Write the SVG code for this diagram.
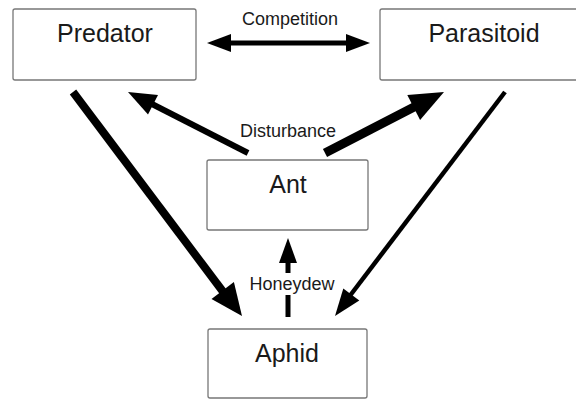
<svg xmlns="http://www.w3.org/2000/svg" width="576" height="401" viewBox="0 0 576 401">
<style>
.box{fill:#fff;stroke:#777;stroke-width:1.3}
.node{font-family:"Liberation Sans",Arial,sans-serif;font-size:25px;fill:#1a1a1a;text-anchor:middle}
.lbl{font-family:"Liberation Sans",Arial,sans-serif;font-size:18px;fill:#1a1a1a;text-anchor:middle}
.ln{stroke:#000;fill:none;stroke-linecap:butt}
.hd{fill:#000;stroke:none}
</style>
<rect width="576" height="401" fill="#fff"/>
<g id="predator"><rect class="box" x="13" y="9" width="183" height="71" rx="2"/><text class="node" x="105" y="42">Predator</text></g>
<g id="parasitoid"><rect class="box" x="380" y="9" width="200" height="71" rx="2"/><text class="node" x="484" y="42">Parasitoid</text></g>
<g id="ant"><rect class="box" x="207" y="160" width="161" height="70" rx="2"/><text class="node" x="288" y="193">Ant</text></g>
<g id="aphid"><rect class="box" x="208" y="329" width="159" height="69" rx="2"/><text class="node" x="287" y="362">Aphid</text></g>
<g id="connectors">
<line class="ln" x1="228" y1="43" x2="349" y2="43" stroke-width="5"/>
<polygon class="hd" points="207,43 231,34 231,52"/>
<polygon class="hd" points="370,43 346,34 346,52"/>
<text class="lbl" x="290" y="25">Competition</text>
<line class="ln" x1="248" y1="153" x2="150" y2="103" stroke-width="6"/>
<polygon class="hd" points="128,92 158,94.9 148,114.5"/>
<line class="ln" x1="325" y1="153" x2="416" y2="106" stroke-width="9"/>
<polygon class="hd" points="444,92 420.1,120 407.3,95"/>
<text class="lbl" x="288" y="137">Disturbance</text>
<line class="ln" x1="73" y1="92" x2="224" y2="293" stroke-width="8"/>
<polygon class="hd" points="242,316 211.5,298.9 233.9,282.1"/>
<line class="ln" x1="505" y1="92" x2="349" y2="297" stroke-width="4.5"/>
<polygon class="hd" points="335,316 359.3,300.5 343.3,288.5"/>
<line class="ln" x1="288" y1="317" x2="288" y2="295" stroke-width="5"/>
<line class="ln" x1="288" y1="273" x2="288" y2="260" stroke-width="5"/>
<polygon class="hd" points="288,238 279,263 297,263"/>
<text class="lbl" x="292" y="290">Honeydew</text>
</g>
</svg>
